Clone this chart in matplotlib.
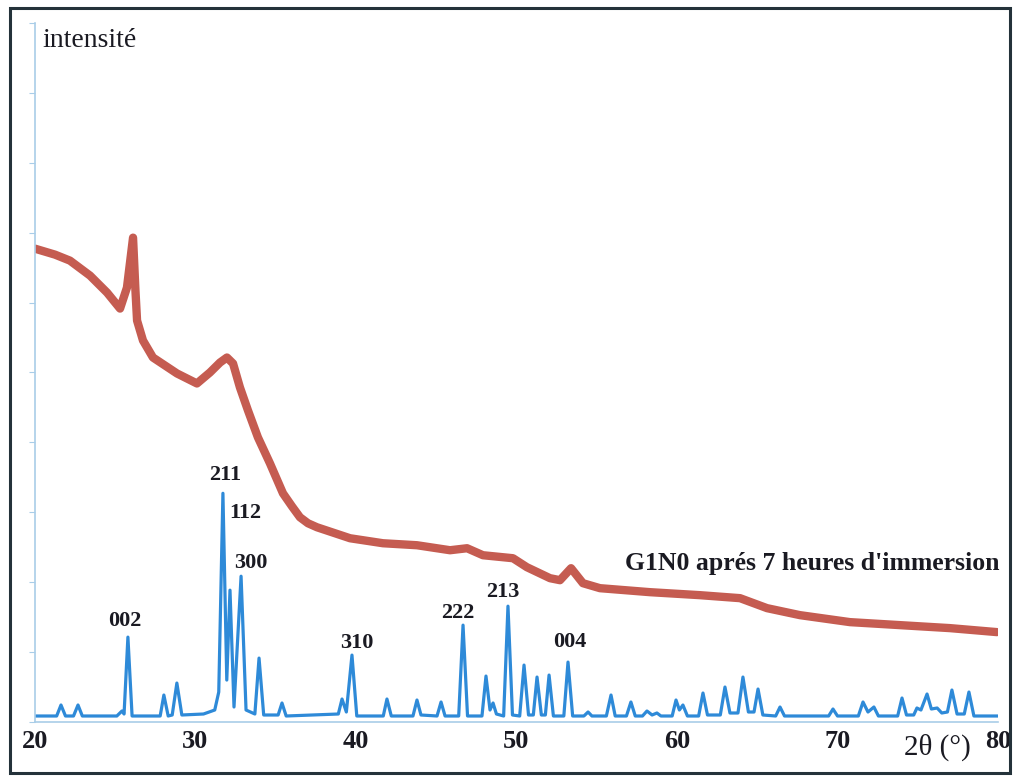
import matplotlib
matplotlib.use("Agg")
import matplotlib.pyplot as plt
from matplotlib.patches import Rectangle

plt.rcParams["font.family"] = ["Liberation Serif", "DejaVu Serif"]

# --- data (2θ en degrés, intensité en unités arbitraires) ---
# diagramme de l'échantillon après immersion (courbe rouge)
red_2theta = [20.00, 21.25, 22.18, 23.43, 24.49, 25.30, 25.73, 26.11, 26.26, 26.36,
              26.73, 27.35, 28.85, 30.09, 30.90, 31.53, 31.96, 32.34, 32.77, 33.27,
              33.89, 34.64, 35.45, 36.01, 36.51, 37.01, 37.57, 39.63, 41.68, 43.80,
              45.86, 46.92, 47.91, 49.78, 50.65, 52.09, 52.71, 53.40, 54.14, 55.20,
              58.32, 61.43, 63.93, 65.61, 67.66, 70.78, 73.89, 77.01, 79.94]
red_int = [474, 468, 462, 447, 430, 414, 435, 485, 432, 402,
           382, 365, 349, 339, 350, 360, 365, 359, 335, 312,
           285, 259, 229, 216, 205, 199, 195, 184, 179, 177,
           172, 174, 167, 164, 155, 144, 142, 154, 139, 134,
           130, 127, 124, 114, 107, 100, 97, 94, 90]

# diagramme de référence (courbe bleue)
blue_2theta = [20.0, 21.35, 21.62, 21.9, 22.4, 22.68, 22.95, 25.1, 25.42, 25.55,
               25.79, 26.05, 27.8, 28.03, 28.3, 28.55, 28.84, 29.15, 30.5, 31.2,
               31.45, 31.71, 31.95, 32.15, 32.4, 32.84, 33.15, 33.7, 33.96, 34.25,
               35.15, 35.39, 35.65, 38.9, 39.13, 39.4, 39.75, 40.05, 41.7, 41.93,
               42.2, 43.55, 43.80, 44.05, 45.05, 45.30, 45.55, 46.4, 46.67, 46.95,
               47.85, 48.10, 48.35, 48.54, 48.75, 49.2, 49.47, 49.75, 50.2, 50.47,
               50.75, 51.05, 51.28, 51.55, 51.8, 52.03, 52.3, 52.95, 53.21, 53.5,
               54.2, 54.46, 54.7, 55.6, 55.89, 56.15, 56.85, 57.13, 57.4, 57.85,
               58.13, 58.45, 58.75, 59.0, 59.7, 59.94, 60.15, 60.37, 60.65, 61.35,
               61.62, 61.9, 62.7, 62.99, 63.3, 63.8, 64.11, 64.45, 64.8, 65.05,
               65.35, 66.15, 66.42, 66.7, 69.45, 69.72, 70.0, 71.3, 71.59, 71.9,
               72.27, 72.55, 73.75, 74.02, 74.3, 74.75, 74.95, 75.2, 75.58, 75.85,
               76.21, 76.5, 76.85, 77.13, 77.45, 77.9, 78.19, 78.5, 80.0]
blue_int = [6, 6, 17, 6, 6, 17, 6, 6, 11, 8,
            85, 6, 6, 27, 6, 7, 39, 7, 8, 12,
            30, 229, 42, 132, 15, 146, 12, 8, 64, 7,
            7, 19, 6, 8, 23, 10, 67, 6, 6, 23,
            6, 6, 22, 7, 6, 20, 6, 6, 97, 6,
            6, 46, 12, 19, 8, 6, 116, 7, 6, 57,
            7, 7, 45, 7, 7, 47, 6, 6, 60, 6,
            6, 10, 6, 6, 27, 6, 6, 20, 6, 6,
            11, 7, 9, 6, 6, 22, 12, 17, 6, 6,
            29, 7, 7, 35, 9, 9, 45, 10, 10, 33,
            7, 6, 15, 6, 6, 13, 6, 6, 20, 10,
            15, 6, 6, 24, 7, 7, 14, 12, 28, 13,
            14, 9, 10, 32, 8, 8, 30, 6, 6]

# indices de Miller et position des étiquettes
hkl_labels = ["002", "211", "112", "300", "310", "222", "213", "004"]
hkl_x = [25.61, 31.84, 33.08, 33.46, 40.06, 46.36, 49.16, 53.33]
hkl_y = [101, 247, 209, 159, 79, 109, 130, 80]

xticks = [20, 30, 40, 50, 60, 70, 80]

fig = plt.figure(figsize=(10.14, 7.76), dpi=100)
ax = fig.add_axes([0.0345, 0.0696, 0.9497, 0.9008])

ax.plot(red_2theta, red_int, color="#bf4a3e", lw=6, alpha=0.9,
        solid_joinstyle="round", solid_capstyle="round")
ax.plot(blue_2theta, blue_int, color="#2e8ad8", lw=2.3)

for lab, x, y in zip(hkl_labels, hkl_x, hkl_y):
    ax.text(x, y, lab, ha="center", va="center", fontsize=16,
            fontweight="bold", color="#1a1a22")

ax.text(80.12, 159, "G1N0 aprés 7 heures d'immersion", ha="right", va="center",
        fontsize=18.5, fontweight="bold", color="#1a1a22", clip_on=False)

ax.set_xlim(20, 80)
ax.set_ylim(0, 700)
ax.set_xticks(xticks)
ax.set_xticklabels([str(t) for t in xticks], fontsize=19, fontweight="bold", color="#1a1a22")
ax.tick_params(axis="x", length=0, pad=6)
ax.set_yticks(range(0, 701, 70))
ax.set_yticklabels([])
ax.tick_params(axis="y", direction="out", length=4, color="#a9cde8")

for side in ["top", "right"]:
    ax.spines[side].set_visible(False)
ax.spines["left"].set_color("#a9cde8")
ax.spines["bottom"].set_color("#a9cde8")
ax.spines["left"].set_linewidth(1.2)
ax.spines["bottom"].set_linewidth(1.2)

fig.text(0.042, 0.948, "intensité", fontsize=20, color="#1a1a22", ha="left", va="center")
fig.text(0.924, 0.037, "2θ (°)", fontsize=21, color="#1a1a22", ha="center", va="center")

# cadre extérieur
fig.patches.append(Rectangle((0.010, 0.004), 0.986, 0.986, transform=fig.transFigure,
                             fill=False, edgecolor="#24323a", lw=2.2))

fig.savefig("out.png", dpi=100)
